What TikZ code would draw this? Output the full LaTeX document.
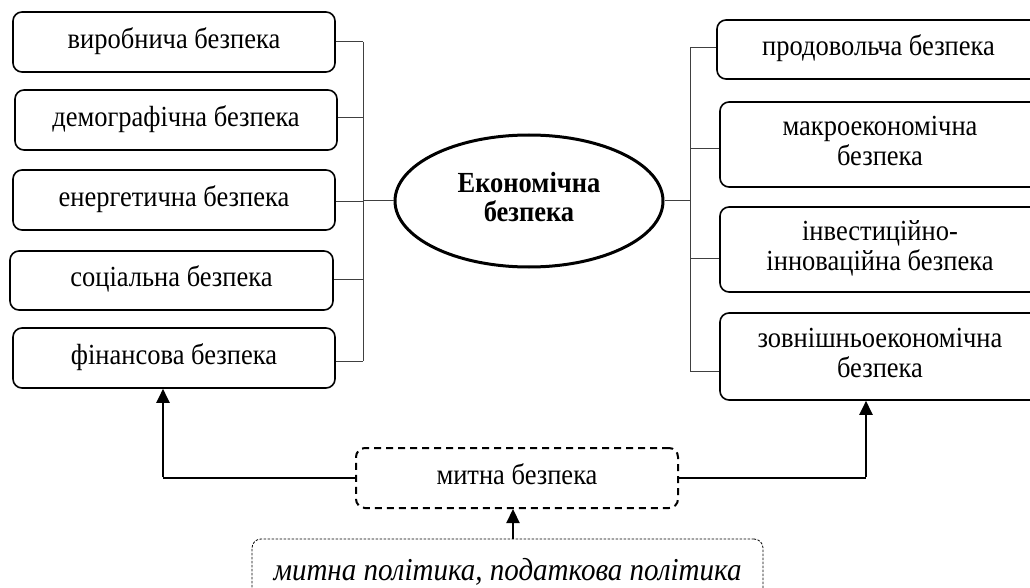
\documentclass[tikz,border=0pt]{standalone}
\usepackage{fontspec}
\usepackage{graphicx}
\setmainfont{Liberation Serif}
\usetikzlibrary{shapes.geometric,arrows.meta}
\newcommand{\vtxt}[1]{\scalebox{1}[1.1]{\begin{tabular}{@{}c@{}}#1\end{tabular}}}
\begin{document}
\begin{tikzpicture}[x=1pt,y=-1pt,
  txt/.style={font=\fontsize{26.5}{26.5}\selectfont},
  box/.style={draw, line width=1.6pt, rounded corners=9pt, align=center, txt, inner sep=0pt, minimum width=322pt, minimum height=60pt},
  conn/.style={line width=1pt, draw=black!75},
  arr/.style={line width=2.2pt, -{Triangle[length=14pt,width=13pt]}}]
\useasboundingbox (0,0) rectangle (1030,588);
\clip (0,0) rectangle (1030,588);
% left boxes
\node[box] (b1) at (174,42) {\vtxt{виробнича безпека}};
\node[box] (b2) at (176,120) {\vtxt{демографічна безпека}};
\node[box] (b3) at (174,200) {\vtxt{енергетична безпека}};
\node[box, minimum width=323pt, minimum height=59pt] (b4) at (171.5,280.5) {\vtxt{соціальна безпека}};
\node[box] (b5) at (174,358) {\vtxt{фінансова безпека}};
% ellipse
\node[draw, ellipse, line width=3pt, minimum width=268pt, minimum height=132pt, inner sep=0pt, align=center, font=\fontsize{26.5}{26.5}\selectfont\bfseries] (e) at (529,201) {\vtxt{Економічна\\безпека}};
% right boxes
\node[box, minimum width=323pt, minimum height=59pt] (r1) at (878.5,49.5) {\vtxt{продовольча безпека}};
\node[box, minimum width=320pt, minimum height=85pt] (r2) at (880,144.5) {\vtxt{макроекономічна\\безпека}};
\node[box, minimum width=320pt, minimum height=85pt] (r3) at (880,249.5) {\vtxt{інвестиційно-\\інноваційна безпека}};
\node[box, minimum width=320pt, minimum height=87pt] (r4) at (880,356.5) {\vtxt{зовнішньоекономічна\\безпека}};
% bottom boxes
\node[box, dashed, line width=2pt, dash pattern=on 7pt off 5pt] (mb) at (517,478) {\vtxt{митна безпека}};
\node[draw, line width=0.8pt, dash pattern=on 2.5pt off 1.5pt, rounded corners=9pt, minimum width=511pt, minimum height=70pt, inner sep=0pt, font=\fontsize{29}{29}\selectfont\itshape] (pol) at (507.5,574) {\vtxt{митна політика, податкова політика}};
% left bracket
\coordinate (lb) at (363,201);
\draw[conn] ([yshift=0pt]b1.east) -- (b1.east -| lb);
\draw[conn] ([yshift=2pt]b2.east) -- ([yshift=2pt]b2.east -| lb);
\draw[conn] ([yshift=-2pt]b3.east) -- ([yshift=-2pt]b3.east -| lb);
\draw[conn] ([yshift=1pt]b4.east) -- ([yshift=1pt]b4.east -| lb);
\draw[conn] ([yshift=-3pt]b5.east) -- ([yshift=-3pt]b5.east -| lb);
\draw[conn] (b1.east -| lb) -- ([yshift=-3pt]b5.east -| lb);
\draw[conn] (lb) -- (e.west);
% right bracket
\coordinate (rb) at (690,201);
\draw[conn] (e.east) -- (rb);
\draw[conn] ([yshift=1.5pt]r1.west) -- ([yshift=1.5pt]r1.west -| rb);
\draw[conn] ([yshift=-4.5pt]r2.west) -- ([yshift=-4.5pt]r2.west -| rb);
\draw[conn] ([yshift=-8.5pt]r3.west) -- ([yshift=-8.5pt]r3.west -| rb);
\draw[conn] ([yshift=-14.5pt]r4.west) -- ([yshift=-14.5pt]r4.west -| rb);
\draw[conn] ([yshift=1.5pt]r1.west -| rb) -- ([yshift=-14.5pt]r4.west -| rb);
% arrows
\coordinate (la) at (163,478);
\coordinate (ra) at (866,478);
\draw[conn, line width=1.3pt, draw=black] (mb.west) -- (la);
\draw[arr] ([yshift=0.6pt]la) -- (la |- b5.south);
\draw[conn, line width=1.3pt, draw=black] (mb.east) -- (ra);
\draw[arr] ([yshift=0.6pt]ra) -- (ra |- r4.south);
\draw[arr] ([xshift=5.5pt]pol.north) -- ([xshift=5.5pt]pol.north |- mb.south);
\end{tikzpicture}
\end{document}
